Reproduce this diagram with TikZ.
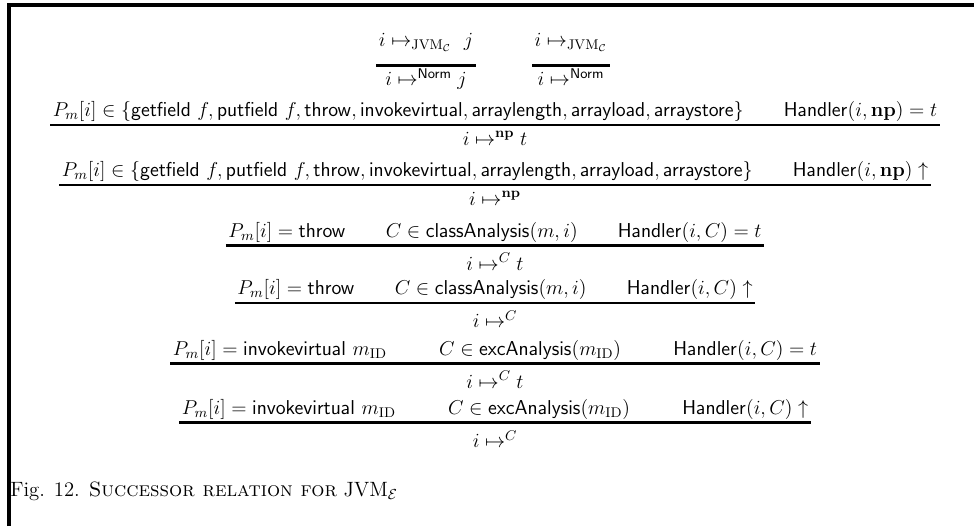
\RequirePackage{fix-cm}
\documentclass[tikz,border=0pt]{standalone}
\usepackage{amsmath, amssymb}
\usepackage{tikz}
\usetikzlibrary{positioning}

\begin{document}
\begin{tikzpicture}
              [x=0.6667pt,y=-0.6667pt,node distance=4.3pt,
                every node/.style={inner sep=0pt,font=\fontsize{13.4}{16}\selectfont},
                prem/.style={anchor=south,inner xsep=1.5pt,text depth=5.3pt},
                premhi/.style={prem,text depth=12.7pt},
                concl/.style={text height=9pt,text depth=3pt},
                conclhi/.style={concl,text height=12pt},
                infline/.style={line width=1.8pt},
                frameline/.style={line width=2.2pt}]
              \useasboundingbox (0,0) rectangle (974,526);
              \draw[frameline] (9,526) -- (9,5) -- (974,5);
              \node[premhi] (p1a) at (426,65.7) {$i \mapsto_{\mathrm{JVM}_{\mathcal{C}}}\ j$};
              \node[premhi] (p1b) at (571,65.7) {$i \mapsto_{\mathrm{JVM}_{\mathcal{C}}}$};
              \node[concl] (c1a) [below=of p1a] {$i \mapsto^{\mathsf{Norm}} j$};
              \node[concl] (c1b) [below=of p1b] {$i \mapsto^{\mathsf{Norm}}$};
              \node[prem] (p2) at (495,125) {$P_m[i] \in \{\mathsf{getfield}\ f, \mathsf{putfield}\ f, \mathsf{throw}, \mathsf{invokevirtual}, \mathsf{arraylength}, \mathsf{arrayload}, \mathsf{arraystore}\} \qquad \mathsf{Handler}(i,\mathbf{np}) = t$};
              \node[concl] (c2) [below=of p2] {$i \mapsto^{\mathbf{np}} t$};
              \node[prem] (p3) at (495,185) {$P_m[i] \in \{\mathsf{getfield}\ f, \mathsf{putfield}\ f, \mathsf{throw}, \mathsf{invokevirtual}, \mathsf{arraylength}, \mathsf{arrayload}, \mathsf{arraystore}\} \qquad \mathsf{Handler}(i,\mathbf{np}) \uparrow$};
              \node[concl] (c3) [below=of p3] {$i \mapsto^{\mathbf{np}}$};
              \node[prem] (p4) at (495,245.5) {$P_m[i] = \mathsf{throw} \qquad C \in \mathsf{classAnalysis}(m,i) \qquad \mathsf{Handler}(i,C) = t$};
              \node[conclhi] (c4) [below=of p4] {$i \mapsto^{C} t$};
              \node[prem] (p5) at (495,303) {$P_m[i] = \mathsf{throw} \qquad C \in \mathsf{classAnalysis}(m,i) \qquad \mathsf{Handler}(i,C) \uparrow$};
              \node[conclhi] (c5) [below=of p5] {$i \mapsto^{C}$};
              \node[prem] (p6) at (495,363.3) {$P_m[i] = \mathsf{invokevirtual}\ m_{\mathrm{ID}} \hspace{2.6em} C \in \mathsf{excAnalysis}(m_{\mathrm{ID}}) \hspace{2.6em} \mathsf{Handler}(i,C) = t$};
              \node[conclhi] (c6) [below=of p6] {$i \mapsto^{C} t$};
              \node[prem] (p7) at (495,422.7) {$P_m[i] = \mathsf{invokevirtual}\ m_{\mathrm{ID}} \hspace{2.6em} C \in \mathsf{excAnalysis}(m_{\mathrm{ID}}) \hspace{2.6em} \mathsf{Handler}(i,C) \uparrow$};
              \node[conclhi] (c7) [below=of p7] {$i \mapsto^{C}$};
              \node[anchor=base west,font=\fontsize{13.8}{16}\selectfont] (cap) at (10,496.7) {Fig. 12. \textsc{Successor relation for} JVM$_{\mathcal{E}}$};
              \foreach \p in {p1a,p1b,p2,p3,p4,p5,p6,p7}
              \draw[infline] (\p.south west) -- (\p.south east);
            \end{tikzpicture}
\end{document}
